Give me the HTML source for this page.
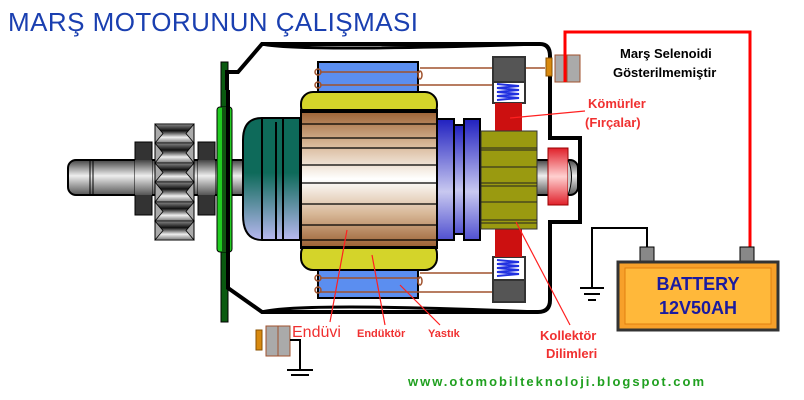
<!DOCTYPE html>
<html><head><meta charset="utf-8"><style>body{margin:0;background:#fff}svg{display:block}</style></head><body>
<svg width="804" height="400" viewBox="0 0 804 400" xmlns="http://www.w3.org/2000/svg" font-family="Liberation Sans, sans-serif">
<defs>
<linearGradient id="shaft" x1="0" y1="0" x2="0" y2="1"><stop offset="0" stop-color="#444"/><stop offset=".45" stop-color="#eee"/><stop offset="1" stop-color="#555"/></linearGradient>
<linearGradient id="tooth" x1="0" y1="0" x2="0" y2="1"><stop offset="0" stop-color="#888"/><stop offset=".35" stop-color="#111"/><stop offset=".7" stop-color="#eee"/><stop offset="1" stop-color="#777"/></linearGradient>
<linearGradient id="arm" x1="0" y1="0" x2="0" y2="1"><stop offset="0" stop-color="#9a5e30"/><stop offset=".25" stop-color="#d8b898"/><stop offset=".5" stop-color="#fff"/><stop offset=".75" stop-color="#d8b898"/><stop offset="1" stop-color="#9a5e30"/></linearGradient>
<linearGradient id="teal" x1="0" y1="0" x2="0" y2="1"><stop offset="0" stop-color="#0e6a5a"/><stop offset=".45" stop-color="#0e6a5a"/><stop offset="1" stop-color="#b8b8f0"/></linearGradient>
<linearGradient id="blue" x1="0" y1="0" x2="0" y2="1"><stop offset="0" stop-color="#2020c0"/><stop offset=".6" stop-color="#c8c8f0"/><stop offset="1" stop-color="#5050d0"/></linearGradient>
<linearGradient id="red" x1="0" y1="0" x2="0" y2="1"><stop offset="0" stop-color="#e0202a"/><stop offset=".5" stop-color="#ffd0d0"/><stop offset="1" stop-color="#e0202a"/></linearGradient>
</defs>
<text x="8" y="31" font-size="26" fill="#1a3fb0" textLength="410">MARŞ MOTORUNUN ÇALIŞMASI</text>
<!-- shaft -->
<rect x="68" y="160" width="510" height="35" rx="8" fill="url(#shaft)" stroke="#000" stroke-width="2"/>
<line x1="90" y1="160" x2="90" y2="195" stroke="#000"/><line x1="93" y1="160" x2="93" y2="195" stroke="#000"/>
<!-- nuts and gear -->
<rect x="135" y="142" width="17" height="73" fill="#333" stroke="#000"/><rect x="135" y="160" width="17" height="35" fill="url(#shaft)"/>
<rect x="198" y="142" width="17" height="73" fill="#333" stroke="#000"/><rect x="198" y="160" width="17" height="35" fill="url(#shaft)"/>
<rect x="155" y="124" width="39" height="116" fill="#aaa" stroke="#000"/>
<g fill="url(#tooth)" stroke="#000" stroke-width="0.8">
<polygon points="155,124 194,124 186,133.5 194,143 155,143 163,133.5"/>
<polygon points="155,143 194,143 186,153 194,163 155,163 163,153"/>
<polygon points="155,163 194,163 186,172.5 194,182 155,182 163,172.5"/>
<polygon points="155,182 194,182 186,192 194,202 155,202 163,192"/>
<polygon points="155,202 194,202 186,211.5 194,221 155,221 163,211.5"/>
<polygon points="155,221 194,221 186,230.5 194,240 155,240 163,230.5"/>
</g>
<!-- green disk -->
<rect x="221" y="62" width="7" height="260" fill="#0a5a10" stroke="#000"/>
<rect x="217" y="107" width="15" height="145" rx="3" fill="#22cc22" stroke="#000"/>
<rect x="222" y="107" width="5" height="145" fill="#115511"/>
<!-- housing -->
<path d="M227,90 V72 H238 L262,44 H540 Q550,44 550,56 V138 H580 V222 H550 V300 Q550,312 538,312 H262 L228,288 V90" fill="none" stroke="#000" stroke-width="4"/>
<path d="M262,44 Q300,52 540,44 M262,312 Q300,302 540,312" fill="none" stroke="#000" stroke-width="3"/>
<!-- field coils -->
<rect x="318" y="62" width="100" height="30" fill="#5b8ef0" stroke="#000" stroke-width="2"/>
<rect x="318" y="268" width="100" height="30" fill="#5b8ef0" stroke="#000" stroke-width="2"/>
<g fill="none" stroke="#a0522d" stroke-width="1.5">
<path d="M320,72 H420 M320,85 H500 M420,68 H545 M320,278 H420 M320,292 H510 V286 M420,273 H510"/>
<ellipse cx="318" cy="72" rx="3" ry="3"/><ellipse cx="318" cy="85" rx="3" ry="3"/><ellipse cx="420" cy="75" rx="2" ry="4"/>
<ellipse cx="318" cy="278" rx="3" ry="3"/><ellipse cx="318" cy="290" rx="3" ry="3"/><ellipse cx="420" cy="281" rx="2" ry="4"/>
</g>
<!-- teal end -->
<path d="M262,118 H300 V240 H262 Q243,240 243,215 V140 Q243,118 262,118Z" fill="url(#teal)" stroke="#000" stroke-width="2"/>
<line x1="262" y1="118" x2="262" y2="240" stroke="#000" stroke-width="2"/><line x1="276" y1="122" x2="276" y2="240" stroke="#000" stroke-width="2"/><line x1="283" y1="118" x2="283" y2="240" stroke="#000" stroke-width="2"/>
<!-- pole shoes -->
<rect x="301" y="92" width="136" height="26" rx="12" fill="#d4d42a" stroke="#000" stroke-width="2"/>
<rect x="301" y="242" width="136" height="28" rx="12" fill="#d4d42a" stroke="#000" stroke-width="2"/>
<!-- armature -->
<rect x="301" y="110" width="136" height="138" fill="url(#arm)" stroke="#000" stroke-width="2"/>
<g stroke="#000" stroke-width="1.2"><line x1="301" y1="124" x2="437" y2="124"/><line x1="301" y1="138" x2="437" y2="138"/><line x1="301" y1="148" x2="437" y2="148"/><line x1="301" y1="165" x2="437" y2="165"/><line x1="301" y1="183" x2="437" y2="183"/><line x1="301" y1="204" x2="437" y2="204"/><line x1="301" y1="225" x2="437" y2="225"/><line x1="301" y1="240" x2="437" y2="240"/></g>
<rect x="301" y="110" width="136" height="3" fill="#000"/><rect x="301" y="246" width="136" height="3" fill="#000"/>
<!-- blue end -->
<rect x="437" y="119" width="17" height="121" fill="url(#blue)" stroke="#000" stroke-width="2"/>
<rect x="454" y="125" width="10" height="109" fill="url(#blue)" stroke="#000" stroke-width="2"/>
<rect x="464" y="119" width="16" height="121" fill="url(#blue)" stroke="#000" stroke-width="2"/>
<!-- brush holders -->
<rect x="493" y="57" width="32" height="25" fill="#555" stroke="#333" stroke-width="2"/>
<rect x="493" y="82" width="32" height="21" fill="#fff" stroke="#333" stroke-width="2"/>
<path d="M497,84 L519,86 L497,88 L519,90 L497,92 L519,94 L497,96 L519,98 L497,100" fill="none" stroke="#2030e0" stroke-width="2"/>
<rect x="495" y="103" width="27" height="28" fill="#cc1010"/>
<rect x="493" y="257" width="32" height="23" fill="#fff" stroke="#333" stroke-width="2"/>
<path d="M497,260 L519,262 L497,264 L519,266 L497,268 L519,270 L497,272 L519,274 L497,276" fill="none" stroke="#2030e0" stroke-width="2"/>
<rect x="493" y="280" width="32" height="22" fill="#555" stroke="#333" stroke-width="2"/>
<rect x="495" y="229" width="27" height="28" fill="#cc1010"/>
<!-- commutator -->
<rect x="481" y="131" width="56" height="98" fill="#9a9a10" stroke="#333"/>
<g stroke="#222"><line x1="481" y1="148" x2="537" y2="148"/><line x1="481" y1="150" x2="537" y2="150"/><line x1="481" y1="167" x2="537" y2="167"/><line x1="481" y1="183" x2="537" y2="183"/><line x1="481" y1="186" x2="537" y2="186"/><line x1="481" y1="202" x2="537" y2="202"/><line x1="481" y1="220" x2="537" y2="220"/><line x1="481" y1="223" x2="537" y2="223"/></g>
<!-- red cap -->
<rect x="548" y="148" width="20" height="57" fill="url(#red)" stroke="#900"/>
<path d="M568,160 Q575,176 568,195" fill="#ccc" stroke="#000"/>
<!-- top terminal -->
<rect x="546" y="58" width="6" height="18" fill="#d88a10" stroke="#8a5000"/>
<rect x="555" y="55" width="25" height="27" fill="#aaa" stroke="#a0522d"/>
<line x1="567" y1="55" x2="567" y2="82" stroke="#a0522d"/>
<path d="M565,82 V32 H750 V250" fill="none" stroke="#ff0000" stroke-width="3"/>
<!-- battery -->
<rect x="640" y="247" width="14" height="15" fill="#888" stroke="#000"/>
<rect x="740" y="247" width="14" height="15" fill="#888" stroke="#000"/>
<rect x="618" y="262" width="160" height="68" fill="#f7a02a" stroke="#333" stroke-width="3"/>
<rect x="625" y="268" width="146" height="56" fill="#ffb83a" stroke="#e08010"/>
<text x="698" y="290" font-size="18" font-weight="bold" fill="#1a1aa0" text-anchor="middle">BATTERY</text>
<text x="698" y="314" font-size="18" font-weight="bold" fill="#1a1aa0" text-anchor="middle">12V50AH</text>
<path d="M647,247 V228 H592 V288 M580,288 H604 M584,294 H600 M588,300 H596" fill="none" stroke="#000" stroke-width="2"/>
<!-- bottom terminal -->
<rect x="256" y="330" width="6" height="20" fill="#d88a10" stroke="#8a5000"/>
<rect x="266" y="326" width="24" height="30" fill="#aaa" stroke="#a0522d"/>
<line x1="278" y1="326" x2="278" y2="356" stroke="#a0522d"/>
<path d="M290,340 H300 V370 M287,370 H313 M291,375 H309" fill="none" stroke="#000" stroke-width="2"/>
<!-- leader lines -->
<g stroke="#ff2020" stroke-width="1.2">
<line x1="510" y1="118" x2="585" y2="111"/>
<line x1="516" y1="222" x2="570" y2="325"/>
<line x1="347" y1="230" x2="330" y2="322"/>
<line x1="372" y1="255" x2="385" y2="325"/>
<line x1="400" y1="285" x2="440" y2="325"/>
</g>
<!-- labels -->
<text x="620" y="58" font-size="13" font-weight="bold">Marş Selenoidi</text>
<text x="613" y="77" font-size="13" font-weight="bold">Gösterilmemiştir</text>
<text x="588" y="108" font-size="13" font-weight="bold" fill="#f03030">Kömürler</text>
<text x="585" y="127" font-size="13" font-weight="bold" fill="#f03030">(Fırçalar)</text>
<text x="540" y="340" font-size="13" font-weight="bold" fill="#f03030">Kollektör</text>
<text x="546" y="358" font-size="13" font-weight="bold" fill="#f03030">Dilimleri</text>
<text x="292" y="337" font-size="16" fill="#f03030">Endüvi</text>
<text x="357" y="337" font-size="11" font-weight="bold" fill="#f03030">Endüktör</text>
<text x="428" y="337" font-size="11" font-weight="bold" fill="#f03030">Yastık</text>
<text x="408" y="386" font-size="13" font-weight="bold" fill="#20a020" textLength="296">www.otomobilteknoloji.blogspot.com</text>
</svg>
</body></html>
